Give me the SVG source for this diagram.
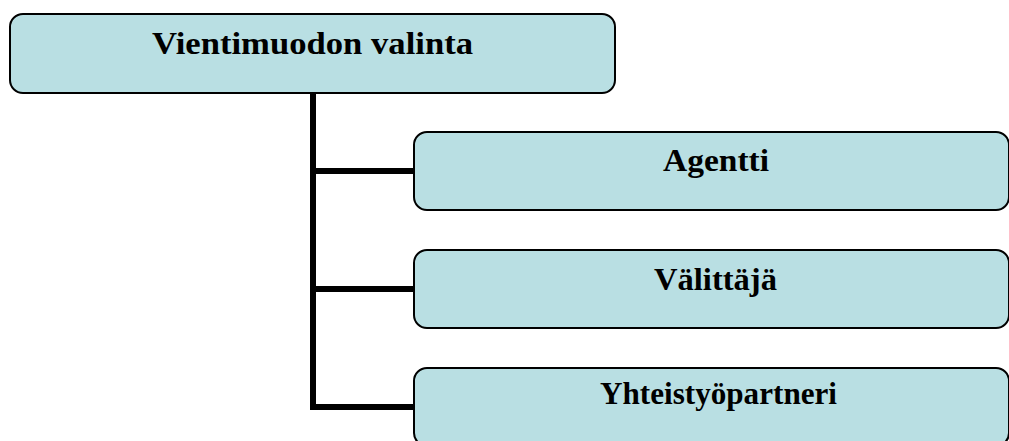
<svg xmlns="http://www.w3.org/2000/svg" width="1009" height="441" viewBox="0 0 1009 441">
<style>
.box{fill:#B9DFE3;stroke:#000;stroke-width:2}
.lbl{font-family:"Liberation Serif",serif;font-weight:bold;font-size:31px;fill:#000}
.con{stroke:#000;stroke-width:6;fill:none}
</style>
<rect width="1009" height="441" fill="#fff"/>
<g id="connectors">
<path class="con" d="M313 93 V407 M310 171 H414 M310 289 H414 M310 407 H414"/>
</g>
<g id="root">
<rect class="box" x="10" y="14" width="605" height="79" rx="13"/>
<text class="lbl" x="152" y="54" textLength="321" lengthAdjust="spacingAndGlyphs">Vientimuodon valinta</text>
</g>
<g id="agentti">
<rect class="box" x="414" y="132" width="595" height="78" rx="13"/>
<text class="lbl" x="663" y="171" textLength="106" lengthAdjust="spacingAndGlyphs">Agentti</text>
</g>
<g id="valittaja">
<rect class="box" x="414" y="250" width="595" height="78" rx="13"/>
<text class="lbl" x="654" y="290" textLength="123" lengthAdjust="spacingAndGlyphs">Välittäjä</text>
</g>
<g id="yhteistyopartneri">
<rect class="box" x="414" y="368" width="595" height="78" rx="13"/>
<text class="lbl" x="600" y="404" textLength="237" lengthAdjust="spacingAndGlyphs">Yhteistyöpartneri</text>
</g>
</svg>
